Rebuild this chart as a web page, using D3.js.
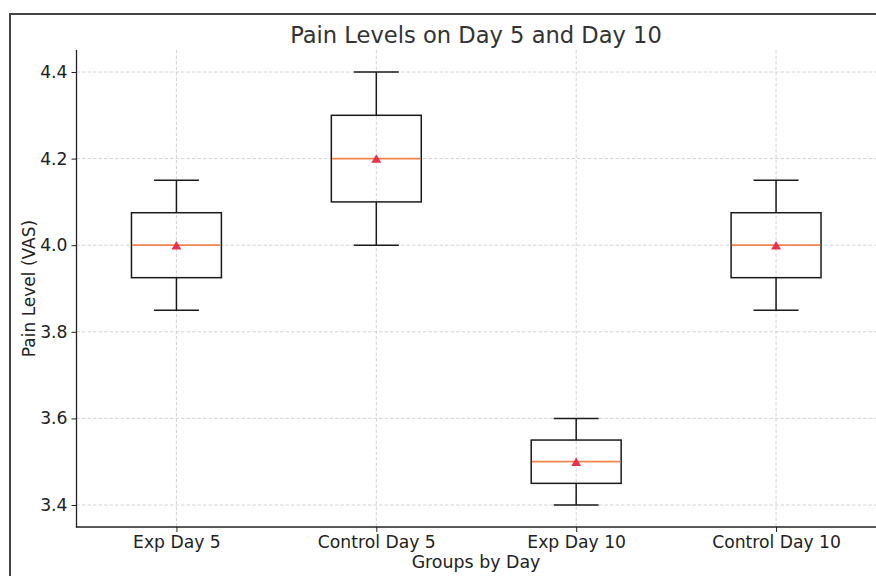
<!DOCTYPE html>
<html>
<head>
<meta charset="utf-8">
<script src="https://cdn.jsdelivr.net/npm/d3@7/dist/d3.min.js"></script>
<style>
  html, body { margin: 0; padding: 0; background: #fff; }
  svg { display: block; font-family: "DejaVu Sans", sans-serif; }
</style>
</head>
<body>
<svg id="chart" width="876" height="576"></svg>
<script>
// Groups and their box statistics (VAS pain level)
const groups   = ["Exp Day 5", "Control Day 5", "Exp Day 10", "Control Day 10"];
const whiskLow = [3.85, 4.00, 3.40, 3.85];
const q1       = [3.925, 4.10, 3.45, 3.925];
const medians  = [4.00, 4.20, 3.50, 4.00];
const q3       = [4.075, 4.30, 3.55, 4.075];
const whiskHigh= [4.15, 4.40, 3.60, 4.15];
const means    = [4.00, 4.20, 3.50, 4.00];
const yTicks   = [3.4, 3.6, 3.8, 4.0, 4.2, 4.4];

const boxes = groups.map((g, i) => ({
  group: g, pos: i + 1,
  lo: whiskLow[i], q1: q1[i], med: medians[i], q3: q3[i], hi: whiskHigh[i], mean: means[i]
}));

const svg = d3.select("#chart");
const plotLeft = 76.5, plotRight = 876, plotTop = 50, plotBottom = 527;

// Figure frame
svg.append("rect")
  .attr("x", 10).attr("y", 14).attr("width", 900).attr("height", 600)
  .attr("fill", "none").attr("stroke", "#444").attr("stroke-width", 2);

const x = d3.scaleLinear().domain([0.5, 4.5]).range([plotLeft, plotRight]);
const y = d3.scaleLinear().domain([3.4 - 22/433, 4.4 + 22/433]).range([plotBottom, plotTop]);

// Grid
const grid = svg.append("g").attr("stroke", "#cfcfcf").attr("stroke-width", 0.9)
  .attr("stroke-dasharray", "3.5,2");
grid.selectAll("line.h").data(yTicks).join("line")
  .attr("class", "h")
  .attr("x1", plotLeft).attr("x2", plotRight)
  .attr("y1", d => y(d)).attr("y2", d => y(d));
grid.selectAll("line.v").data(boxes).join("line")
  .attr("class", "v")
  .attr("x1", d => x(d.pos)).attr("x2", d => x(d.pos))
  .attr("y1", plotTop).attr("y2", plotBottom);

// Boxes
const boxW = 0.45, capW = 0.225;
const triSize = 42, triH = Math.sqrt(triSize * Math.sqrt(3));
const g = svg.append("g").attr("fill", "none").attr("stroke", "#1a1a1a").attr("stroke-width", 1.5);
const b = g.selectAll("g.box").data(boxes).join("g").attr("class", "box");
b.append("line")
  .attr("x1", d => x(d.pos)).attr("x2", d => x(d.pos))
  .attr("y1", d => y(d.lo)).attr("y2", d => y(d.q1));
b.append("line")
  .attr("x1", d => x(d.pos)).attr("x2", d => x(d.pos))
  .attr("y1", d => y(d.q3)).attr("y2", d => y(d.hi));
b.append("line")
  .attr("x1", d => x(d.pos - capW/2)).attr("x2", d => x(d.pos + capW/2))
  .attr("y1", d => y(d.lo)).attr("y2", d => y(d.lo));
b.append("line")
  .attr("x1", d => x(d.pos - capW/2)).attr("x2", d => x(d.pos + capW/2))
  .attr("y1", d => y(d.hi)).attr("y2", d => y(d.hi));
b.append("rect")
  .attr("x", d => x(d.pos - boxW/2)).attr("width", d => x(d.pos + boxW/2) - x(d.pos - boxW/2))
  .attr("y", d => y(d.q3)).attr("height", d => y(d.q1) - y(d.q3));
b.append("line")
  .attr("stroke", "#f5844c").attr("stroke-width", 1.8)
  .attr("x1", d => x(d.pos - boxW/2) + 0.75).attr("x2", d => x(d.pos + boxW/2) - 0.75)
  .attr("y1", d => y(d.med)).attr("y2", d => y(d.med));
// Mean marker, centred on its bounding box like a '^' marker
b.append("path")
  .attr("d", d3.symbol(d3.symbolTriangle, triSize)())
  .attr("transform", d => `translate(${x(d.pos)},${y(d.mean) + triH / 6})`)
  .attr("fill", "#e8304f").attr("stroke", "none");

// Axes
const yAxis = d3.axisLeft(y).tickValues(yTicks).tickFormat(d3.format(".1f")).tickSize(5).tickPadding(4);
const xAxis = d3.axisBottom(x).tickValues(boxes.map(d => d.pos)).tickFormat((d, i) => groups[i]).tickSize(5).tickPadding(4);

const ya = svg.append("g").attr("transform", `translate(${plotLeft},0)`).call(yAxis);
const xa = svg.append("g").attr("transform", `translate(0,${plotBottom})`).call(xAxis);
[ya, xa].forEach(a => {
  a.select(".domain").remove();
  a.selectAll(".tick line").attr("stroke", "#222").attr("stroke-width", 1);
  a.selectAll(".tick text").attr("fill", "#222").style("font-size", "17.2px")
    .style("font-family", "'DejaVu Sans', sans-serif");
});
svg.append("line").attr("x1", plotLeft).attr("x2", plotLeft).attr("y1", plotTop).attr("y2", plotBottom + 0.6)
  .attr("stroke", "#222").attr("stroke-width", 1.3);
svg.append("line").attr("x1", plotLeft - 0.6).attr("x2", plotRight).attr("y1", plotBottom).attr("y2", plotBottom)
  .attr("stroke", "#222").attr("stroke-width", 1.3);

// Titles
svg.append("text").attr("x", 476).attr("y", 43).attr("text-anchor", "middle")
  .attr("fill", "#333").style("font-size", "22.6px").text("Pain Levels on Day 5 and Day 10");
svg.append("text").attr("x", 476).attr("y", 568).attr("text-anchor", "middle")
  .attr("fill", "#222").style("font-size", "17.4px").text("Groups by Day");
svg.append("text").attr("transform", `translate(35,${(plotTop + plotBottom) / 2}) rotate(-90)`)
  .attr("text-anchor", "middle").attr("fill", "#222").style("font-size", "17px")
  .text("Pain Level (VAS)");
</script>
</body>
</html>
